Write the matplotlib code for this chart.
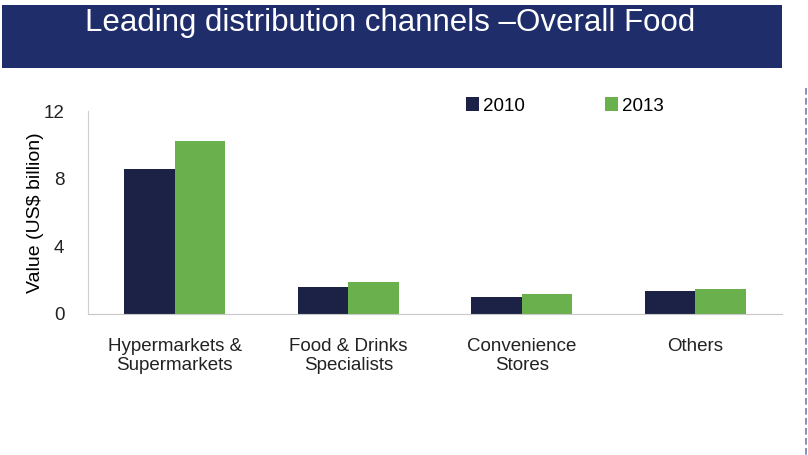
import matplotlib.pyplot as plt
import numpy as np
from matplotlib.patches import Rectangle
from matplotlib.lines import Line2D

plt.rcParams['font.family'] = ['Liberation Sans', 'DejaVu Sans']

# Food sales by distribution channel (US$ billion)
channels = ["Hypermarkets &\nSupermarkets", "Food & Drinks\nSpecialists",
            "Convenience\nStores", "Others"]
years = ["2010", "2013"]
values_2010 = [8.58, 1.58, 1.02, 1.36]
values_2013 = [10.2, 1.88, 1.17, 1.46]

navy = "#1b2245"
green = "#6ab04c"

fig = plt.figure(figsize=(8.08, 4.55), dpi=100)

# title banner
fig.patches.append(Rectangle((2 / 808, 1 - 68 / 455), 780 / 808, 63 / 455,
                             transform=fig.transFigure, facecolor="#1f2e6b",
                             edgecolor="none", zorder=0))
fig.text(390 / 808, 1 - 23 / 455, "Leading distribution channels \u2013Overall Food",
         color="white", fontsize=22.5, ha="center", va="center")

# dashed divider on the right
fig.add_artist(Line2D([806 / 808, 806 / 808], [1 - 88 / 455, 0],
                      transform=fig.transFigure, color="#6f7fa8",
                      linestyle=(0, (4, 2)), linewidth=1.2))

ax = fig.add_axes([88 / 808, 1 - 314 / 455, 694 / 808, 203 / 455])
x = np.arange(len(channels))
w = 0.29
ax.bar(x - w / 2, values_2010, w, color=navy, label=years[0])
ax.bar(x + w / 2, values_2013, w, color=green, label=years[1])

ax.set_xlim(-0.5, len(channels) - 0.5)
ax.set_ylim(0, 12)
ax.set_yticks([0, 4, 8, 12])
ax.set_xticks(x)
ax.set_xticklabels(channels, fontsize=13.5)
ax.tick_params(axis="both", length=0, colors="#222222")
ax.tick_params(axis="y", labelsize=13.5, pad=17)
ax.tick_params(axis="x", pad=17)
ax.set_ylabel("Value (US$ billion)", fontsize=14, labelpad=0)

for side in ["top", "right"]:
    ax.spines[side].set_visible(False)
ax.spines["left"].set_color("#d0d0d0")
ax.spines["bottom"].set_color("#c8c8c8")

ax.legend(loc="upper left", bbox_to_anchor=(0.52, 1.15), ncol=2, frameon=False,
          fontsize=13.5, handlelength=0.7, handleheight=0.7, handletextpad=0.2,
          columnspacing=4.3)

fig.savefig("out.png", dpi=100)
